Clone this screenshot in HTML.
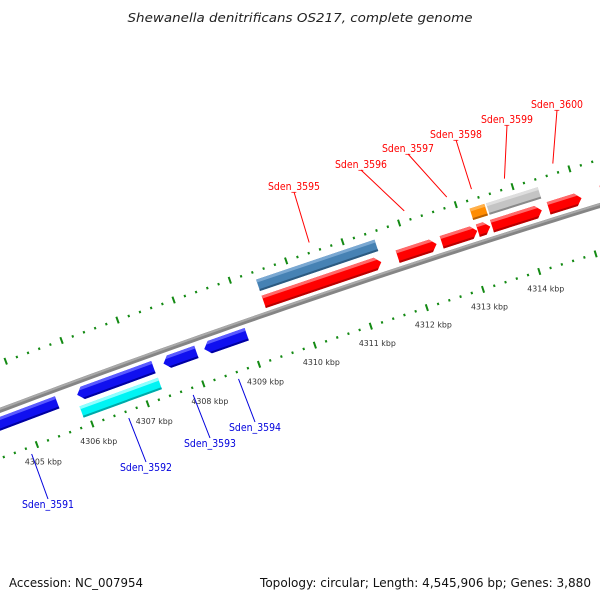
<!DOCTYPE html>
<html><head><meta charset="utf-8">
<style>
html,body{margin:0;padding:0;background:#fff;}
svg{display:block;}
text{font-family:"DejaVu Sans","Liberation Sans",sans-serif;}
</style></head>
<body>
<svg id="chart" width="600" height="600" viewBox="0 0 600 600" xmlns="http://www.w3.org/2000/svg">
<rect width="600" height="600" fill="#fff"/>
<text x="300" y="22" text-anchor="middle" font-size="12.5" font-style="italic" fill="#222" textLength="345" lengthAdjust="spacingAndGlyphs">Shewanella denitrificans OS217, complete genome</text>
<g id="ticks"></g>
<g id="backbone"></g>
<g id="genes"></g>
<g id="labels"></g>
<text x="9" y="587" font-size="12" fill="#111" textLength="134" lengthAdjust="spacingAndGlyphs">Accession: NC_007954</text>
<text x="591" y="587" text-anchor="end" font-size="12" fill="#111" textLength="331" lengthAdjust="spacingAndGlyphs">Topology: circular; Length: 4,545,906 bp; Genes: 3,880</text>
</svg>
<script>
// ---- data ----
const geneNames  = ["Sden_3591","Sden_3592","Sden_3593","Sden_3594","Sden_3595","Sden_3596","Sden_3597","Sden_3598","Sden_3599","Sden_3600","Sden_3601"];
const geneStrand = [-1,-1,-1,-1,1,1,1,1,1,1,1];
const geneStart  = [4304.15,4305.93,4307.48,4308.21,4309.42,4311.80,4312.58,4313.22,4313.47,4314.47,4315.40];
const geneEnd    = [4305.57,4307.30,4308.07,4308.97,4311.51,4312.49,4313.21,4313.44,4314.35,4315.05,4316.50];
const featNames  = ["cyan-feature","steelblue-feature","orange-feature","gray-feature"];
const featStart  = [4305.90,4309.42,4313.20,4313.49];
const featEnd    = [4307.31,4311.52,4313.46,4314.40];
const featTrack  = [-1,1,1,1];
const featColor  = ["cyan","steel","orange","gray"];
const tickKbp    = [4305,4306,4307,4308,4309,4310,4311,4312,4313,4314];
const tickLabels = ["4305 kbp","4306 kbp","4307 kbp","4308 kbp","4309 kbp","4310 kbp","4311 kbp","4312 kbp","4313 kbp","4314 kbp"];
const labeledGenes = [0,1,2,3,4,5,6,7,8,9];
// label layout (text center x, baseline y)
const labelCX = [48,146,210,255,294,361,408,456,507,557];
const labelBY = [508,471,447,431,190,168,152,138,123,108];

// ---- axis (circular arc) ----
const CX=3528, CY=9762, R=9995, P0=4306, PHI0=-110.2, K=0.34;
function pt(p,h){const a=(PHI0+(p-P0)*K)*Math.PI/180;const r=R+h;return [CX+r*Math.cos(a),CY+r*Math.sin(a)];}
const NS="http://www.w3.org/2000/svg";
function mk(tag,attrs,parent){const e=document.createElementNS(NS,tag);for(const k in attrs)e.setAttribute(k,attrs[k]);parent.appendChild(e);return e;}
function poly(points){return points.map(q=>q[0].toFixed(2)+","+q[1].toFixed(2)).join(" ");}

const palette={
 red:["#ff0000","#ff6a6a","#b80000"],
 blue:["#1010f0","#5a5aff","#0000a0"],
 cyan:["#00f4f4","#90ffff","#00a8a8"],
 steel:["#4682b4","#7aa8d2","#2c5a80"],
 orange:["#ff8c00","#ffb04a","#b86000"],
 gray:["#c4c4c4","#dedede","#8a8a8a"]
};

// ticks
const gT=document.getElementById("ticks");
[-45,44].forEach(function(h){
  for(let i=0;i<=90;i++){
    const p=4302+i*0.2;
    const major=Math.abs(p-Math.round(p))<1e-6;
    const len=major?3.5:1.2;
    const a=pt(p,h-len), b=pt(p,h+len);
    const ln=mk("line",{x1:a[0],y1:a[1],x2:b[0],y2:b[1],stroke:"#138a13","stroke-width":2},gT);
    
    
  }
});
tickKbp.forEach(function(p,i){
  const q=pt(p,-45);
  const t=mk("text",{x:q[0]-12,y:q[1]+20,"font-size":"8",fill:"#333",textLength:"37",lengthAdjust:"spacingAndGlyphs"},gT);
  t.textContent=tickLabels[i];
  
  
});

// backbone
const gB=document.getElementById("backbone");
function arcPath(h){let d="";for(let p=4300;p<=4319;p+=0.25){const q=pt(p,h);d+=(d?"L":"M")+q[0].toFixed(2)+","+q[1].toFixed(2);}return d;}
const bb=mk("path",{d:arcPath(0),fill:"none",stroke:"#858585","stroke-width":5},gB);


const bb2=mk("path",{d:arcPath(1.3),fill:"none",stroke:"#a9a9a9","stroke-width":2},gB);



// genes
const gG=document.getElementById("genes");
function drawShape(p1,p2,h1,h2,dir,cols,name){
  const tip=dir===0?0:0.1, mid=(h1+h2)/2, th=h2-h1;
  const g=mk("g",{},gG);
  
  
  let main, top, bot;
  if(dir===1){
    main=[pt(p1,h1),pt(p1,h2),pt(p2-tip,h2),pt(p2,mid),pt(p2-tip,h1)];
    const ft=tip*3/(th/2), fb=tip*2/(th/2);
    top=[pt(p1,h2-3),pt(p1,h2),pt(p2-tip,h2),pt(p2-tip+ft,h2-3)];
    bot=[pt(p1,h1),pt(p1,h1+2),pt(p2-tip+fb,h1+2),pt(p2-tip,h1)];
  }else if(dir===-1){
    main=[pt(p2,h1),pt(p2,h2),pt(p1+tip,h2),pt(p1,mid),pt(p1+tip,h1)];
    const ft=tip*3/(th/2), fb=tip*2/(th/2);
    top=[pt(p2,h2-3),pt(p2,h2),pt(p1+tip,h2),pt(p1+tip-ft,h2-3)];
    bot=[pt(p2,h1),pt(p2,h1+2),pt(p1+tip-fb,h1+2),pt(p1+tip,h1)];
  }else{
    main=[pt(p1,h1),pt(p1,h2),pt(p2,h2),pt(p2,h1)];
    top=[pt(p1,h2-3),pt(p1,h2),pt(p2,h2),pt(p2,h2-3)];
    bot=[pt(p1,h1),pt(p1,h1+2),pt(p2,h1+2),pt(p2,h1)];
  }
  const a=mk("polygon",{points:poly(main),fill:cols[0]},g);
  
  
  const b=mk("polygon",{points:poly(top),fill:cols[1]},g);
  
  
  const c=mk("polygon",{points:poly(bot),fill:cols[2]},g);
  
  
}
featNames.forEach(function(n,i){
  const h1=featTrack[i]>0?24:-36, h2=featTrack[i]>0?36:-24;
  drawShape(featStart[i],featEnd[i],h1,h2,0,palette[featColor[i]],n);
});
geneNames.forEach(function(n,i){
  const s=geneStrand[i];
  const h1=s>0?6:-19, h2=s>0?19:-6;
  drawShape(geneStart[i],geneEnd[i],h1,h2,s,s>0?palette.red:palette.blue,"gene-"+n.toLowerCase().replace("_","-"));
});

// labels
const gL=document.getElementById("labels");
labeledGenes.forEach(function(gi,i){
  const s=geneStrand[gi];
  const mid=(geneStart[gi]+geneEnd[gi])/2;
  const e=pt(mid,s>0?54:-52);
  const col=s>0?"#ff0000":"#0000dd";
  const sy=s>0?labelBY[i]+2:labelBY[i]-9;
  const ln=mk("line",{x1:labelCX[i],y1:sy,x2:e[0],y2:e[1],stroke:col,"stroke-width":1},gL);
  
  
  const t=mk("text",{x:labelCX[i],y:labelBY[i],"text-anchor":"middle","font-size":"10.5",fill:col,textLength:"52",lengthAdjust:"spacingAndGlyphs"},gL);
  t.textContent=geneNames[gi];
  
  
});
</script>
</body></html>
